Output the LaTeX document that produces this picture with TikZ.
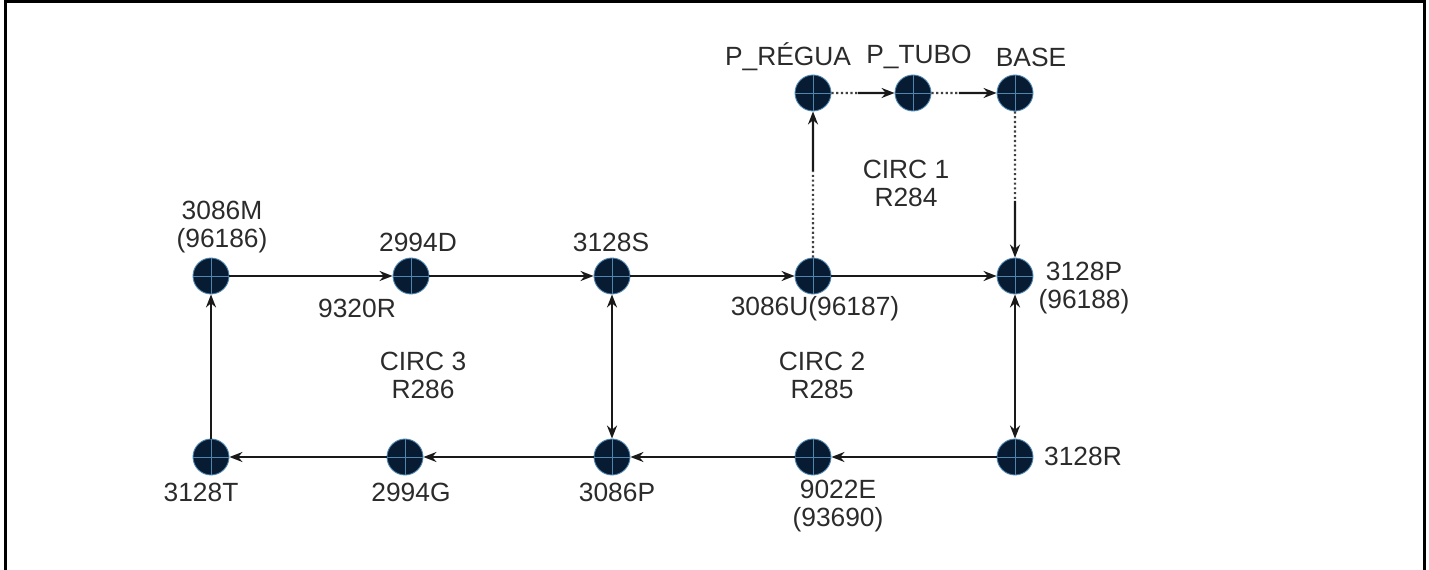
\documentclass[tikz,border=0pt]{standalone}
\usepackage{fontspec}
\setmainfont{Liberation Sans}
\usepackage{xcolor}
\definecolor{Navy}{HTML}{071B33}
\definecolor{Glow}{HTML}{4F86B0}
\definecolor{Ink}{HTML}{2B2B2B}
\usetikzlibrary{arrows.meta,calc}

\begin{document}
\begin{tikzpicture}[
    x=0.02cm, y=-0.02cm,
    >={Stealth[length=2.6mm,width=2.0mm]},
    pt/.style={circle,fill=Navy,draw=Glow,line width=0.5pt,minimum size=0.72cm,inner sep=0pt,
      path picture={\draw[Glow,line width=0.5pt]
        (path picture bounding box.north) -- (path picture bounding box.south)
        (path picture bounding box.west) -- (path picture bounding box.east);}},
    lbl/.style={font=\fontsize{15}{16}\selectfont,text=Ink,align=center,inner sep=0pt},
    flow/.style={->,line width=1.3pt,black!90},
    both/.style={<->,line width=1.3pt,black!90},
    dots/.style={line width=1.3pt,black!75,dash pattern=on 1.2pt off 1.5pt},
  ]
  \useasboundingbox (0,0) rectangle (1429,570);

  % ---------- frame (cell borders) ----------
  \draw[line width=0.06cm,black] (5.5,570) -- (5.5,1.5) -- (1424,1.5) -- (1424,570);

  % ---------- points ----------
  \node[pt] (m)  at (211,276) {};   % 3086M
  \node[pt] (d)  at (411,276) {};   % 2994D
  \node[pt] (s)  at (612,276) {};   % 3128S
  \node[pt] (u)  at (813,276) {};   % 3086U
  \node[pt] (p)  at (1015,276) {};  % 3128P
  \node[pt] (rg) at (813,93) {};    % P_REGUA
  \node[pt] (tb) at (913,93) {};    % P_TUBO
  \node[pt] (bs) at (1015,93) {};   % BASE
  \node[pt] (t)  at (211,457) {};   % 3128T
  \node[pt] (g)  at (405,457) {};   % 2994G
  \node[pt] (pp) at (612,457) {};   % 3086P
  \node[pt] (e)  at (813,457) {};   % 9022E
  \node[pt] (r)  at (1015,457) {};  % 3128R

  % ---------- labels ----------
  \node[lbl] (lm)  at (222,227) {3086M\\(96186)};
  \node[lbl] (ld)  at (418,242) {2994D};
  \node[lbl] (l93) at (357,308) {9320R};
  \node[lbl] (ls)  at (611,242) {3128S};
  \node[lbl] (lu)  at (815,309) {3086U(96187)};
  \node[lbl] (lp)  at (1084,288) {3128P\\(96188)};
  \node[lbl] (lrg) at (788,57) {P\_RÉGUA};
  \node[lbl] (ltb) at (919,57) {P\_TUBO};
  \node[lbl] (lbs) at (1031,57) {BASE};
  \node[lbl] (lr)  at (1083,456) {3128R};
  \node[lbl] (lt)  at (201,492) {3128T};
  \node[lbl] (lg)  at (411,492) {2994G};
  \node[lbl] (lpp) at (617,492) {3086P};
  \node[lbl] (le)  at (838,506) {9022E\\(93690)};
  \node[lbl] (c1)  at (906,183) {CIRC 1\\R284};
  \node[lbl] (c3)  at (423,375) {CIRC 3\\R286};
  \node[lbl] (c2)  at (822,375) {CIRC 2\\R285};

  % ---------- upper row ----------
  \draw[flow] (m) -- (d);
  \draw[flow] (d) -- (s);
  \draw[flow] (s) -- (u);
  \draw[flow] (u) -- (p);

  % ---------- circuit 1: dotted, closing solid ----------
  \coordinate (ur) at ($(u)!0.57!(rg)$);
  \coordinate (rt) at ($(rg)!0.45!(tb)$);
  \coordinate (tbb) at ($(tb)!0.45!(bs)$);
  \coordinate (bp) at ($(bs)!0.59!(p)$);
  \draw[dots] (u) -- (ur);   \draw[flow] (ur) -- (rg);
  \draw[dots] (rg) -- (rt);  \draw[flow] (rt) -- (tb);
  \draw[dots] (tb) -- (tbb); \draw[flow] (tbb) -- (bs);
  \draw[dots] (bs) -- (bp);  \draw[flow] (bp) -- (p);

  % ---------- verticals ----------
  \draw[both] (s) -- (pp);
  \draw[both] (p) -- (r);

  % ---------- lower row, back to the start ----------
  \draw[flow] (r) -- (e);
  \draw[flow] (e) -- (pp);
  \draw[flow] (pp) -- (g);
  \draw[flow] (g) -- (t);
  \draw[flow] (t) -- (m);
\end{tikzpicture}
\end{document}
